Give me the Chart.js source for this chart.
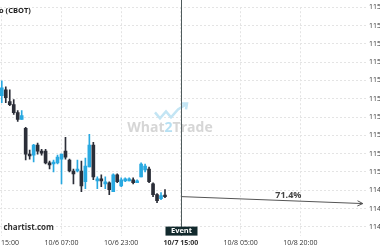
<!DOCTYPE html>
<html>
<head>
<meta charset="utf-8">
<script src="https://cdn.jsdelivr.net/npm/chart.js@4.4.1/dist/chart.umd.min.js"></script>
<style>
html, body { margin: 0; padding: 0; background: #fff; }
#wrap { position: relative; width: 380px; height: 250px; overflow: hidden; }
#box { position: absolute; left: -40px; top: 0; width: 440px; height: 250px; }
</style>
</head>
<body>
<div id="wrap"><div id="box"><canvas id="chart"></canvas></div></div>
<script>
// candles (one per bar, left to right)
const opens = [115.416, 115.449, 115.384, 115.368, 115.324, 115.287, 115.238, 115.097, 115.092, 115.146,
    115.114, 115.114, 115.049, 115.043, 115.049, 115.070, 115.114, 115.065, 115.005, 115.005,
    115.005, 114.946, 115.027, 115.146, 114.951, 114.962, 114.935, 114.941, 114.892, 114.984,
    114.924, 114.951, 114.951, 114.957, 114.941, 114.973, 115.011, 115.016, 114.935, 114.876,
    114.854, 114.870];
const highs = [115.497, 115.465, 115.449, 115.395, 115.335, 115.335, 115.243, 115.119, 115.151, 115.157,
    115.124, 115.124, 115.059, 115.065, 115.092, 115.097, 115.189, 115.070, 115.016, 115.065,
    115.059, 115.076, 115.205, 115.162, 114.973, 114.984, 114.973, 114.946, 114.989, 114.989,
    114.968, 114.968, 114.968, 114.968, 114.957, 115.049, 115.043, 115.027, 114.941, 114.881,
    114.887, 114.903];
const lows = [115.378, 115.378, 115.362, 115.314, 115.276, 115.287, 115.065, 115.070, 115.054, 115.097,
    115.092, 115.043, 115.016, 115.000, 115.043, 114.935, 115.070, 115.000, 114.935, 115.000,
    114.892, 114.908, 115.027, 114.957, 114.908, 114.919, 114.908, 114.876, 114.892, 114.941,
    114.919, 114.946, 114.951, 114.935, 114.941, 114.973, 115.000, 114.941, 114.865, 114.832,
    114.849, 114.859];
const closes = [115.459, 115.405, 115.368, 115.324, 115.287, 115.308, 115.097, 115.087, 115.146, 115.114,
    115.103, 115.049, 115.038, 115.054, 115.081, 115.097, 115.081, 115.005, 114.989, 115.016,
    114.924, 115.032, 115.146, 114.973, 114.962, 114.951, 114.946, 114.903, 114.984, 114.946,
    114.957, 114.962, 114.962, 114.941, 114.951, 115.043, 115.032, 114.946, 114.876, 114.843,
    114.870, 114.865];

const xTickPos = [0, 15, 30, 45, 60, 75];
const xTickLabels = ["10/5 15:00", "10/6 07:00", "10/6 23:00", "10/7 15:00", "10/8 05:00", "10/8 20:00"];
const yTicks = [114.7, 114.8, 114.9, 115.0, 115.1, 115.2, 115.3, 115.4, 115.5, 115.6, 115.7, 115.8, 115.9];

const eventIndex = 45;
const forecastEnd = [90.7, 114.827]; // bar index, price
const forecastText = "71.4%";
const forecastTextX = 72;

const upColor = "#29a9e1";
const downColor = "#2b2e38";
const font = "'Open Sans', sans-serif";

const colors = opens.map((o, i) => closes[i] >= o ? upColor : downColor);
const bodies = opens.map((o, i) => ({ x: i, y: [o, closes[i]] }));
const wicks = opens.map((o, i) => ({ x: i, y: [lows[i], highs[i]] }));

const decor = {
    id: "decor",
    beforeDatasetsDraw(chart) {
        const ctx = chart.ctx;
        const a = chart.chartArea;
        const cx = (a.left + a.right) / 2 + 7;
        const cy = (a.top + a.bottom) / 2 + 7;
        ctx.save();
        // logo zigzag
        ctx.strokeStyle = "#c3e5f4";
        ctx.lineWidth = 2.5;
        ctx.beginPath();
        ctx.moveTo(cx - 15, cy - 16);
        ctx.lineTo(cx - 10, cy - 10);
        ctx.lineTo(cx - 4, cy - 17);
        ctx.lineTo(cx + 1, cy - 11);
        ctx.lineTo(cx + 8, cy - 19);
        ctx.lineTo(cx + 16, cy - 24);
        ctx.stroke();
        ctx.beginPath();
        ctx.moveTo(cx + 11, cy - 25);
        ctx.lineTo(cx + 17, cy - 25);
        ctx.lineTo(cx + 16, cy - 19);
        ctx.stroke();
        // text
        ctx.font = "bold 14px " + font;
        ctx.textBaseline = "middle";
        const parts = [["What", "#d6d6d6"], ["2", "#b6e0f3"], ["Trade", "#d6d6d6"]];
        const total = parts.reduce((s, p) => s + ctx.measureText(p[0]).width, 0);
        let x = cx - total / 2;
        parts.forEach(p => {
            ctx.fillStyle = p[1];
            ctx.fillText(p[0], x, cy);
            x += ctx.measureText(p[0]).width;
        });
        ctx.restore();
    },
    afterDraw(chart) {
        const ctx = chart.ctx;
        const a = chart.chartArea;
        const xs = chart.scales.x;
        const ys = chart.scales.y;
        const ex = Math.round(xs.getPixelForValue(eventIndex)) + 0.5;
        const sy = ys.getPixelForValue(closes[closes.length - 1]);
        const tx = xs.getPixelForValue(forecastEnd[0]);
        const ty = ys.getPixelForValue(forecastEnd[1]);
        ctx.save();

        // event line
        ctx.strokeStyle = "#4f5b5c";
        ctx.lineWidth = 1;
        ctx.beginPath();
        ctx.moveTo(ex, 0);
        ctx.lineTo(ex, a.bottom);
        ctx.stroke();

        // forecast arrow
        ctx.strokeStyle = "#555";
        ctx.beginPath();
        ctx.moveTo(ex, sy);
        ctx.lineTo(tx, ty);
        const ang = Math.atan2(ty - sy, tx - ex);
        ctx.moveTo(tx - 6 * Math.cos(ang - 0.45), ty - 6 * Math.sin(ang - 0.45));
        ctx.lineTo(tx, ty);
        ctx.lineTo(tx - 6 * Math.cos(ang + 0.45), ty - 6 * Math.sin(ang + 0.45));
        ctx.stroke();

        const lx = xs.getPixelForValue(forecastTextX);
        const ly = sy + (ty - sy) * (lx - ex) / (tx - ex);
        ctx.fillStyle = "#444";
        ctx.font = "bold 9px " + font;
        ctx.textAlign = "center";
        ctx.textBaseline = "bottom";
        ctx.fillText(forecastText, lx, ly - 1);

        // event tag
        ctx.fillStyle = "#122a2d";
        ctx.fillRect(ex - 16, a.bottom - 9, 32, 9);
        ctx.fillStyle = "#fff";
        ctx.font = "bold 7.5px " + font;
        ctx.textBaseline = "middle";
        ctx.fillText("Event", ex, a.bottom - 4.3);

        // title and site
        ctx.textAlign = "left";
        ctx.fillStyle = "#222";
        ctx.font = "bold 7.5px " + font;
        ctx.fillText("o (CBOT)", 39, 10.5);
        ctx.fillStyle = "#333";
        ctx.font = "bold 8px " + font;
        ctx.fillText("chartist.com", 43.5, 228);
        ctx.restore();
    }
};

new Chart(document.getElementById("chart"), {
    type: "bar",
    data: {
        datasets: [
            { label: "wick", data: wicks, backgroundColor: colors, barThickness: 1, grouped: false, order: 2 },
            { label: "body", data: bodies, backgroundColor: colors, barThickness: 3, minBarLength: 1.5, grouped: false, order: 1 }
        ]
    },
    options: {
        responsive: true,
        maintainAspectRatio: false,
        animation: false,
        layout: { padding: { left: 0, right: 0, top: 0, bottom: 0 } },
        plugins: { legend: { display: false }, tooltip: { enabled: false } },
        scales: {
            x: {
                type: "linear",
                offset: false,
                min: -10.5,
                max: 91.5,
                afterBuildTicks: s => { s.ticks = xTickPos.map(v => ({ value: v })); },
                grid: { color: "#e4e4e4", drawTicks: false, offset: false },
                border: { display: false, dash: [2, 2] },
                ticks: {
                    autoSkip: false,
                    maxRotation: 0,
                    padding: 3,
                    color: "#333",
                    font: c => ({ family: font, size: 7, weight: c.tick && c.tick.value === eventIndex ? "bold" : "normal" }),
                    callback: v => xTickLabels[xTickPos.indexOf(v)]
                }
            },
            y: {
                position: "right",
                min: 114.652,
                max: 115.9,
                afterBuildTicks: s => { s.ticks = yTicks.map(v => ({ value: v })); },
                afterFit: s => { s.width = 34; },
                grid: { color: "#e4e4e4", drawTicks: false },
                border: { display: false, dash: [2, 2] },
                ticks: {
                    padding: 3,
                    color: "#333",
                    font: { family: font, size: 7 },
                    callback: v => v.toFixed(2)
                }
            }
        }
    },
    plugins: [decor]
});
</script>
</body>
</html>
